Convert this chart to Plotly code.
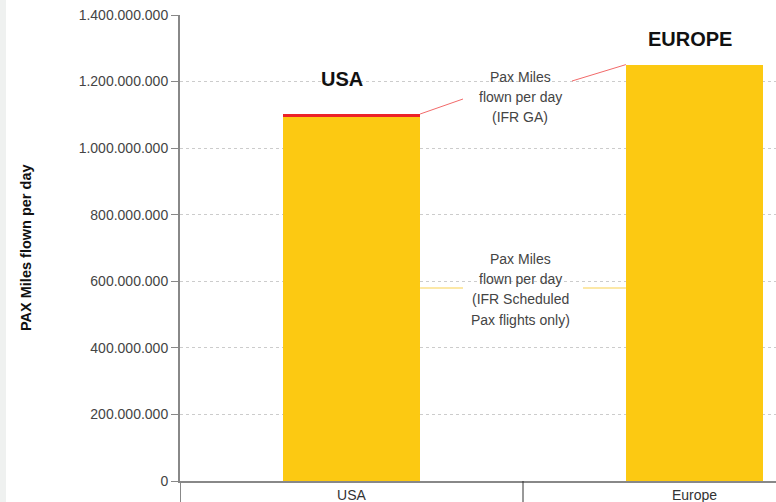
import plotly.graph_objects as go

# ---- data ----
regions = ["USA", "Europe"]
sched_pax_miles = [1.093e9, 1.251e9]   # IFR scheduled pax flights
ga_pax_miles = [0.0095e9, 0.0]          # IFR GA
y_ticks = [0, 200e6, 400e6, 600e6, 800e6, 1000e6, 1200e6, 1400e6]

# ---- layout geometry (pixels) ----
W, H = 776, 502
L, T, B, R = 180, 15, 21, 0
PW, PH = W - L - R, H - T - B
CAT_PX = 343.0
XR = [-0.5, -0.5 + PW / CAT_PX]
YR = [0, 1.4e9]

def pxx(p):  # pixel x -> paper
    return (p - L) / PW

def pxy(p):  # pixel y -> paper
    return (T + PH - p) / PH

def dx(p):   # pixel x -> data x
    return XR[0] + (p - L) / PW * (XR[1] - XR[0])

def dy(p):   # pixel y -> data y
    return YR[0] + (T + PH - p) / PH * (YR[1] - YR[0])

YELLOW = "#fcc912"
RED = "#ec2227"
FONT = "Arial, 'Liberation Sans', sans-serif"
BARW = 0.4

fig = go.Figure()
fig.add_trace(go.Bar(x=[0, 1], y=sched_pax_miles, width=BARW, marker=dict(color=YELLOW, line=dict(width=0)),
                     name="IFR Scheduled"))
fig.add_trace(go.Bar(x=[0, 1], y=ga_pax_miles, width=BARW, marker=dict(color=RED, line=dict(width=0)),
                     name="IFR GA"))

tot = [a + b for a, b in zip(sched_pax_miles, ga_pax_miles)]

shapes = []
# left grey strip
shapes.append(dict(type="rect", xref="paper", yref="paper", x0=pxx(0), x1=pxx(6), y0=pxy(H), y1=pxy(0),
                   fillcolor="#eff1f0", line=dict(width=0), layer="below"))
# category separators below the axis
shapes.append(dict(type="line", xref="x", yref="paper", x0=-0.5, x1=-0.5, y0=0, y1=pxy(H),
                   line=dict(color="#888888", width=2)))
shapes.append(dict(type="line", xref="x", yref="paper", x0=0.5, x1=0.5, y0=0, y1=pxy(H),
                   line=dict(color="#333333", width=1)))
# red leader lines (IFR GA)
shapes.append(dict(type="line", xref="x", yref="y", x0=0 + BARW / 2, y0=tot[0], x1=dx(463), y1=dy(99),
                   line=dict(color="#f26a6a", width=1)))
shapes.append(dict(type="line", xref="x", yref="y", x0=dx(572), y0=dy(81), x1=1 - BARW / 2, y1=tot[1],
                   line=dict(color="#f26a6a", width=1)))
# yellow leader lines (scheduled)
ymid = dy(288)
shapes.append(dict(type="line", xref="x", yref="y", x0=0 + BARW / 2, y0=ymid, x1=dx(463), y1=ymid,
                   line=dict(color="#fbe08a", width=1.5)))
shapes.append(dict(type="line", xref="x", yref="y", x0=dx(583), y0=ymid, x1=1 - BARW / 2, y1=ymid,
                   line=dict(color="#fbe08a", width=1.5)))

annotations = []
def txt(text, x, y, size=14, color="#444444", bold=False, angle=0):
    annotations.append(dict(text=("<b>%s</b>" % text) if bold else text, xref="paper", yref="paper",
                            x=pxx(x), y=pxy(y), xanchor="center", yanchor="middle", showarrow=False,
                            textangle=angle, font=dict(family=FONT, size=size, color=color)))

txt("USA", 342, 79, size=20, color="#111111", bold=True)
txt("EUROPE", 690, 39, size=20, color="#111111", bold=True)
for i, line in enumerate(["Pax Miles", "flown per day", "(IFR GA)"]):
    txt(line, 520, 77 + 20 * i)
for i, line in enumerate(["Pax Miles", "flown per day", "(IFR Scheduled", "Pax flights only)"]):
    txt(line, 520, 259 + 20.2 * i)
txt("PAX Miles flown per day", 26, 248, size=14.5, color="#111111", bold=True, angle=-90)

fig.update_layout(
    width=W, height=H, margin=dict(l=L, r=R, t=T, b=B, pad=0, autoexpand=False),
    paper_bgcolor="white", plot_bgcolor="white",
    barmode="stack", showlegend=False, separators=",.",
    font=dict(family=FONT, size=14, color="#444444"),
    shapes=shapes, annotations=annotations,
    xaxis=dict(range=XR, tickmode="array", tickvals=[0, 1], ticktext=regions, showgrid=False,
               zeroline=False, showline=True, linecolor="#888888", linewidth=2, automargin=False,
               ticks="",
               tickfont=dict(family=FONT, size=14, color="#333333"), fixedrange=True),
    yaxis=dict(range=YR, tickmode="array", tickvals=y_ticks, tickformat=",d", automargin=False,
               showgrid=True, gridcolor="#cccccc", griddash="dot", gridwidth=1,
               zeroline=False, showline=True, linecolor="#888888", linewidth=2,
               ticks="outside", ticklen=7, tickcolor="#888888", tickwidth=1,
               tickfont=dict(family=FONT, size=14, color="#444444"), fixedrange=True),
)

fig.write_html("out.html")
